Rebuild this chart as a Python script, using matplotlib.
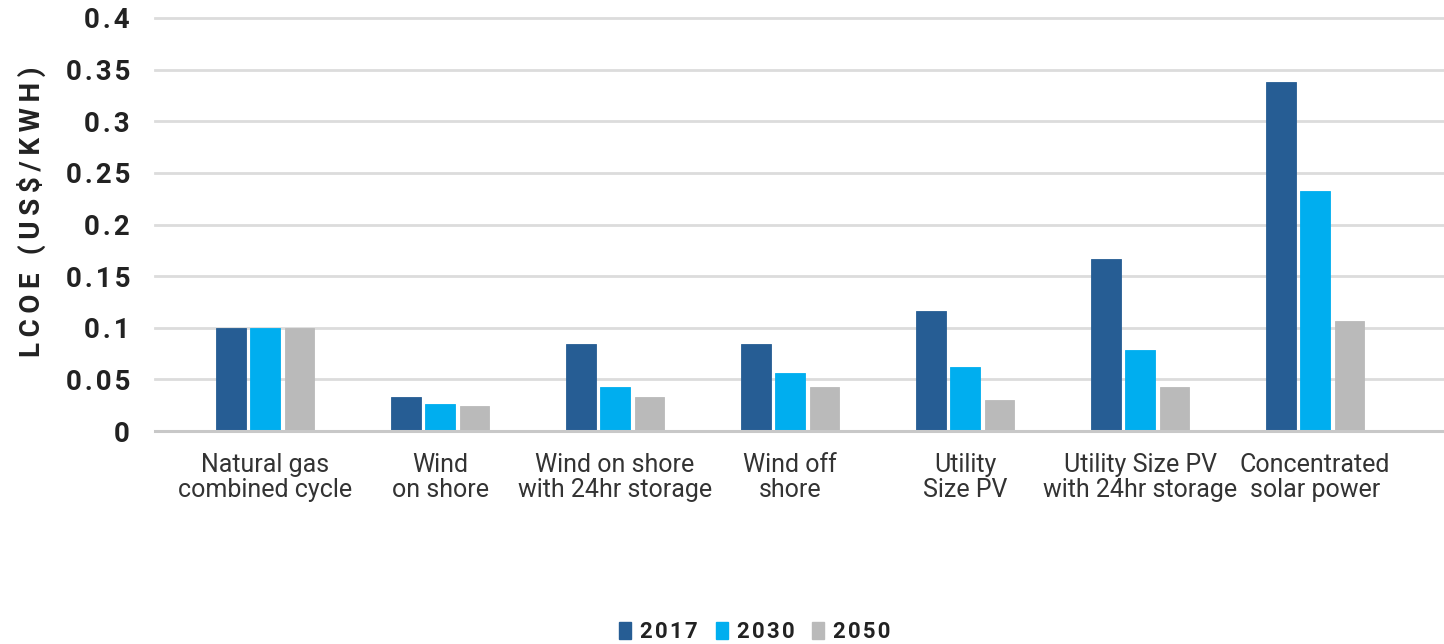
import numpy as np
import matplotlib
matplotlib.use("Agg")
import matplotlib.pyplot as plt
from matplotlib.patches import Patch

# Levelized cost of electricity by technology (US$/kWh)
categories = [
    "Natural gas\ncombined cycle",
    "Wind\non shore",
    "Wind on shore\nwith 24hr storage",
    "Wind off\nshore",
    "Utility\nSize PV",
    "Utility Size PV\nwith 24hr storage",
    "Concentrated\nsolar power",
]
years = ["2017", "2030", "2050"]
lcoe_2017 = [0.100, 0.033, 0.084, 0.084, 0.116, 0.167, 0.338]
lcoe_2030 = [0.100, 0.026, 0.043, 0.056, 0.062, 0.078, 0.232]
lcoe_2050 = [0.100, 0.024, 0.033, 0.043, 0.030, 0.043, 0.107]
y_ticks = [0, 0.05, 0.1, 0.15, 0.2, 0.25, 0.3, 0.35, 0.4]
y_tick_labels = ["0", "0.05", "0.1", "0.15", "0.2", "0.25", "0.3", "0.35", "0.4"]
y_title = "LCOE (US$/KWH)"

colors = ["#265d94", "#00aeef", "#bababa"]
series = [lcoe_2017, lcoe_2030, lcoe_2050]

plt.rcParams["font.family"] = ["Roboto", "DejaVu Sans"]


def spaced(s, gap):
    """Widen the tracking of a label by putting a narrow space between glyphs."""
    return gap.join(s)


HAIR = "\u200a"
THIN = "\u2009"

fig = plt.figure(figsize=(14.44, 6.44), dpi=100)
ax = fig.add_axes([155 / 1444, 1 - 431 / 644, 1 - 155 / 1444, (431 - 18) / 644])

x = np.arange(len(categories))
pitch = 0.195
width = 0.167
for i, (vals, col, yr) in enumerate(zip(series, colors, years)):
    ax.bar(x + (i - 1) * pitch, vals, width=width, color=col, label=yr,
           zorder=3, edgecolor=col, linewidth=0.6)

ax.set_xlim(-0.629, 6.737)
ax.set_ylim(0, 0.4)
ax.set_yticks(y_ticks)
ax.set_yticklabels([spaced(t, HAIR) for t in y_tick_labels], fontsize=20,
                   fontweight="bold", color="#222222")
ax.set_xticks(x)
ax.set_xticklabels(categories, fontsize=18, color="#333333", linespacing=1.05)
ax.tick_params(axis="y", length=0, pad=18)
ax.tick_params(axis="x", length=0, pad=16)

for t in y_ticks[1:]:
    ax.axhline(t, color="#dcdcdc", lw=2.0, zorder=1, clip_on=False)
ax.axhline(0, color="#c8c8c8", lw=2.2, zorder=4, clip_on=False)

for s in ax.spines.values():
    s.set_visible(False)

fig.text(31 / 1444, 1 - 212 / 644, spaced(y_title, THIN), rotation=90,
         ha="center", va="center", fontsize=20, fontweight="bold",
         color="#222222")

handles = [Patch(facecolor=c, edgecolor=c) for c in colors]
fig.legend(handles, [spaced(y, HAIR) for y in years], loc="center",
           bbox_to_anchor=(755 / 1444, 1 - 632 / 644),
           ncol=3, frameon=False, prop={"size": 16, "weight": "bold"},
           handlelength=0.55, handleheight=0.8, handletextpad=0.4,
           columnspacing=0.8, borderpad=0, labelcolor="#222222")

fig.savefig("out.png", dpi=100)
